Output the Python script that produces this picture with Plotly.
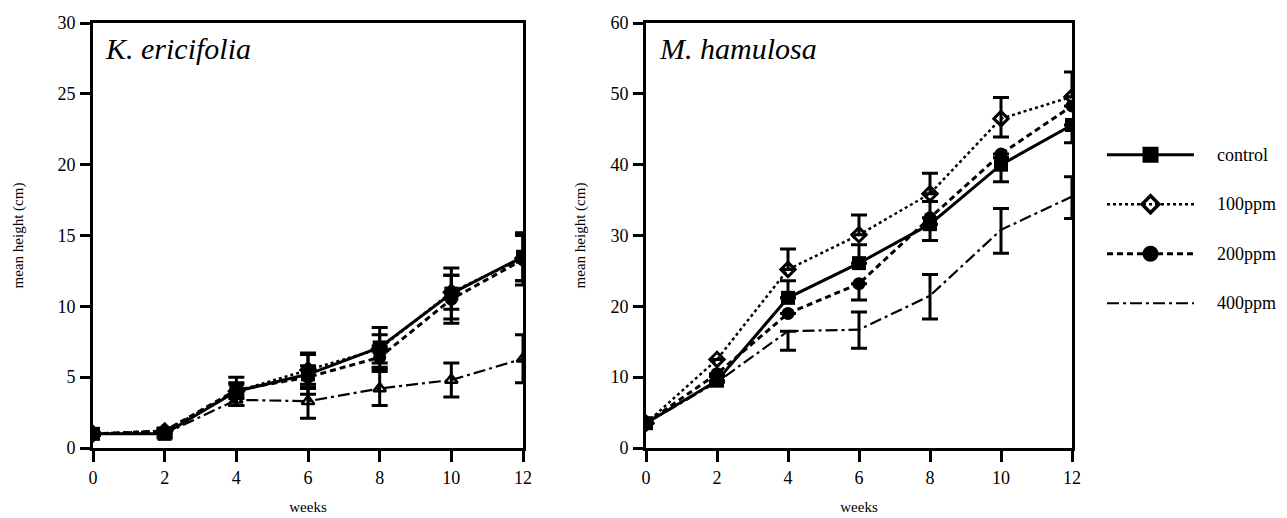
import plotly.graph_objects as go

weeks = [0, 2, 4, 6, 8, 10, 12]
series_names = ["control", "100ppm", "200ppm", "400ppm"]

# K. ericifolia
ke_control = [1.0, 1.0, 4.0, 5.2, 7.1, 10.9, 13.5]
ke_100 = [1.0, 1.2, 4.0, 5.5, 7.0, 11.0, 13.4]
ke_200 = [1.0, 1.2, 4.1, 5.0, 6.4, 10.5, 13.3]
ke_400 = [1.0, 1.0, 3.4, 3.3, 4.2, 4.8, 6.3]
ke_control_err = [0.1, 0.3, 1.0, 1.4, 1.4, 1.8, 1.7]
ke_100_err = [0.1, 0.2, 0.5, 1.2, 1.0, 1.2, 1.6]
ke_200_err = [0.1, 0.2, 0.5, 0.8, 0.8, 1.7, 1.8]
ke_400_err = [0.1, 0.2, 0.4, 1.2, 1.2, 1.2, 1.7]

# M. hamulosa
mh_control = [3.5, 9.5, 21.2, 26.1, 31.6, 40.0, 45.6]
mh_100 = [3.5, 12.5, 25.2, 30.1, 35.9, 46.5, 49.6]
mh_200 = [3.5, 10.5, 19.0, 23.2, 32.5, 41.5, 48.3]
mh_400 = [3.5, 9.3, 16.5, 16.7, 21.5, 30.8, 35.5]
mh_control_up = [0, 0.6, 2.4, 2.6, 0, 1.0, 0]
mh_control_dn = [0, 0, 0, 0, 2.3, 2.4, 2.5]
mh_100_up = [0, 0, 2.9, 2.8, 2.9, 3.0, 3.5]
mh_100_dn = [0, 0, 0, 0, 0, 2.6, 0]
mh_200_up = [0, 0, 0, 0, 2.3, 0, 0]
mh_200_dn = [0, 0, 0, 2.3, 0, 0, 0]
mh_400_up = [0, 0, 0, 2.5, 3.0, 3.0, 2.8]
mh_400_dn = [0, 0, 2.7, 2.6, 3.3, 3.3, 3.1]

SERIF = "Liberation Serif, Times New Roman, serif"
BLACK = "#000000"

line_styles = {
    "control": dict(color=BLACK, width=3, dash="solid"),
    "100ppm": dict(color=BLACK, width=2.5, dash="dot"),
    "200ppm": dict(color=BLACK, width=3, dash="6px,4px"),
    "400ppm": dict(color=BLACK, width=2.2, dash="12px,4px,3px,4px"),
}
marker_styles = {
    "control": dict(symbol="square", size=14, color=BLACK),
    "100ppm": dict(symbol="diamond-open", size=11, color=BLACK, line=dict(width=3, color=BLACK)),
    "200ppm": dict(symbol="circle", size=13, color=BLACK),
    "400ppm": dict(symbol="triangle-up-open", size=11, color=BLACK, line=dict(width=2.5, color=BLACK)),
}
legend_marker_styles = {
    "control": dict(symbol="square", size=16, color=BLACK),
    "100ppm": dict(symbol="diamond-open", size=13, color=BLACK, line=dict(width=3.5, color=BLACK)),
    "200ppm": dict(symbol="circle", size=16, color=BLACK),
}

fig = go.Figure()

ke = {"control": (ke_control, ke_control_err), "100ppm": (ke_100, ke_100_err),
      "200ppm": (ke_200, ke_200_err), "400ppm": (ke_400, ke_400_err)}
for name in ["400ppm", "200ppm", "100ppm", "control"]:
    vals, err = ke[name]
    fig.add_trace(go.Scatter(
        x=weeks, y=vals, mode="lines+markers", name=name, showlegend=False,
        line=line_styles[name], marker=marker_styles[name],
        error_y=dict(type="data", array=err, symmetric=True, color=BLACK, thickness=3, width=8),
        xaxis="x", yaxis="y"))

mh = {"control": (mh_control, mh_control_up, mh_control_dn), "100ppm": (mh_100, mh_100_up, mh_100_dn),
      "200ppm": (mh_200, mh_200_up, mh_200_dn), "400ppm": (mh_400, mh_400_up, mh_400_dn)}
for name in ["400ppm", "200ppm", "100ppm", "control"]:
    vals, up, dn = mh[name]
    mode = "lines" if name == "400ppm" else "lines+markers"
    fig.add_trace(go.Scatter(
        x=weeks, y=vals, mode=mode, name=name, showlegend=False,
        line=line_styles[name], marker=marker_styles[name],
        error_y=dict(type="data", array=up, arrayminus=dn, symmetric=False, color=BLACK, thickness=3, width=8),
        xaxis="x2", yaxis="y2"))

# legend drawn in its own small axes
legend_pos = [3, 2, 1, 0]
for name, k in zip(series_names, legend_pos):
    fig.add_trace(go.Scatter(x=[0, 1], y=[k, k], mode="lines", line=line_styles[name],
                             showlegend=False, hoverinfo="skip", xaxis="x3", yaxis="y3"))
    if name in legend_marker_styles:
        fig.add_trace(go.Scatter(x=[0.5], y=[k], mode="markers", marker=legend_marker_styles[name],
                                 showlegend=False, hoverinfo="skip", xaxis="x3", yaxis="y3"))

W, H = 1287, 518
def px(x):
    return x / W
def py(y):
    return 1 - y / H

def axis_common(ticklen, lblgap):
    return dict(showline=True, linecolor=BLACK, linewidth=3, mirror=True, ticks="outside",
                ticklen=ticklen, tickwidth=3, tickcolor=BLACK, showgrid=False, zeroline=False,
                automargin=False, ticklabelstandoff=lblgap,
                tickfont=dict(family=SERIF, size=18, color=BLACK))

title_font = dict(family=SERIF, size=15, color=BLACK)

fig.update_layout(
    width=W, height=H, margin=dict(l=0, r=0, t=0, b=0, autoexpand=False),
    paper_bgcolor="white", plot_bgcolor="white",
    font=dict(family=SERIF, color=BLACK),
    xaxis=dict(domain=[px(93), px(523)], range=[0, 12], tickvals=weeks, anchor="y",
               title=dict(text="weeks", font=title_font, standoff=15), **axis_common(11, 0)),
    yaxis=dict(domain=[py(448), py(23)], range=[0, 30], tickvals=[0, 5, 10, 15, 20, 25, 30], anchor="x",
               title=dict(text="mean height (cm)", font=title_font, standoff=31), **axis_common(10, 1)),
    xaxis2=dict(domain=[px(646), px(1072)], range=[0, 12], tickvals=weeks, anchor="y2",
                title=dict(text="weeks", font=title_font, standoff=15), **axis_common(11, 0)),
    yaxis2=dict(domain=[py(448), py(23)], range=[0, 60], tickvals=[0, 10, 20, 30, 40, 50, 60], anchor="x2",
                title=dict(text="mean height (cm)", font=title_font, standoff=22), **axis_common(10, 1)),
    xaxis3=dict(domain=[px(1107), px(1194)], range=[0, 1], visible=False, anchor="y3", fixedrange=True),
    yaxis3=dict(domain=[py(328), py(130)], range=[-0.5, 3.5], visible=False, anchor="x3", fixedrange=True),
)

for name, k in zip(series_names, legend_pos):
    fig.add_annotation(x=px(1215), y=k, xref="paper", yref="y3", text=name, showarrow=False,
                       xanchor="left", yanchor="middle", font=dict(family=SERIF, size=18, color=BLACK))

fig.add_annotation(x=px(103), y=py(48), xref="paper", yref="paper", text="<i>K. ericifolia</i>",
                   showarrow=False, xanchor="left", yanchor="middle", font=dict(family=SERIF, size=30, color=BLACK))
fig.add_annotation(x=px(657), y=py(48), xref="paper", yref="paper", text="<i>M. hamulosa</i>",
                   showarrow=False, xanchor="left", yanchor="middle", font=dict(family=SERIF, size=30, color=BLACK))

fig.write_html("out.html")
